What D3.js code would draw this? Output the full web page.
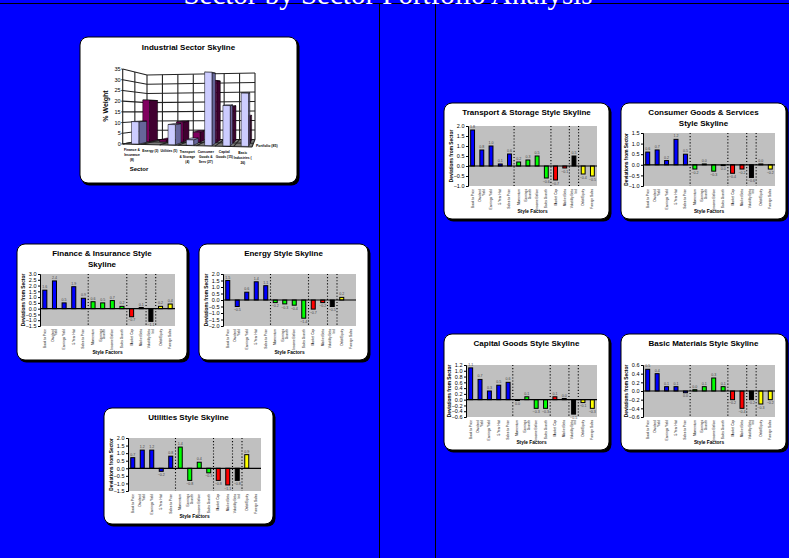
<!DOCTYPE html>
<html>
<head>
<meta charset="utf-8">
<title>Sector by Sector Portfolio Analysis</title>
<script src="https://cdn.jsdelivr.net/npm/d3@7"></script>
<style>
html,body{margin:0;padding:0;background:#0000ff;overflow:hidden}
svg{display:block;font-family:"Liberation Sans",Arial,sans-serif}
</style>
</head>
<body>
<svg id="page" width="789" height="558"></svg>
<script>
// Style factors shared by the seven skyline panels
const styleFactors = ["Book to Price","Dividend\nYield","Earnings Yield","5 Year Hist","Sales to Price",
  "Momentum","Earnings\nGrowth","Income Before","Sales Growth","Market Cap","Market Beta",
  "Volatility Beta\nInd","Debt/Equity","Foreign Sales"];
const factorColors = ["#0000ff","#0000ff","#0000ff","#0000ff","#0000ff",
  "#00ff00","#00ff00","#00ff00","#00ff00","#ff0000","#ff0000","#000000","#ffff00","#ffff00"];
const groupBreaks = [5, 9, 11, 12];

// Deviations from sector, one list per panel
const financeValues   = [1.6, 2.4, 0.5, 1.9, 0.9, 0.6, 0.5, 0.7, 0.2, -0.7, 0.1, -1.1, 0.2, 0.4];
const energyValues    = [1.5, -0.5, 0.6, 1.4, 1.1, -0.2, -0.3, -0.4, -1.4, -0.7, -0.2, -0.5, 0.2, null];
const utilitiesValues = [0.7, 1.2, 1.2, -0.2, 0.8, 1.4, -0.8, 0.4, -0.3, -0.8, -1.1, -0.8, 0.9, null];
const transportValues = [1.8, 0.8, 1.0, 0.1, 0.6, 0.2, 0.3, 0.5, -0.6, -0.7, -0.1, 0.5, -0.4, -0.5];
const consumerValues  = [0.6, 0.7, 0.2, 1.2, 0.5, -0.2, 0.04, -0.3, -0.04, -0.4, -0.2, -0.6, 0.04, -0.2];
const capitalValues   = [1.1, 0.7, 0.3, 0.5, 0.6, -0.03, 0.1, -0.3, -0.3, 0.1, 0.04, -0.5, -0.1, -0.3];
const basicValues     = [0.5, 0.4, 0.1, 0.1, -0.04, 0.03, 0.1, 0.3, 0.1, -0.2, -0.4, -0.2, -0.3, -0.2];

// Panel placement: card box, plot box, value range and tick step
const skylinePanels = [
  {title:["Finance & Insurance Style","Skyline"], values:financeValues, card:[17,244,187,360], plot:[40,274,175,326], range:[-1.5,3], step:0.5},
  {title:["Energy Style Skyline"], values:energyValues, card:[199,244,368,360], plot:[223,274,356,326], range:[-2,2], step:0.5},
  {title:["Utilities Style Skyline"], values:utilitiesValues, card:[104,408,273,524], plot:[128,438,261,491], range:[-1.5,2], step:0.5},
  {title:["Transport & Storage Style Skyline"], values:transportValues, card:[444,103,609,219], plot:[468,126,597,186], range:[-1,2], step:0.5},
  {title:["Consumer Goods & Services","Style Skyline"], values:consumerValues, card:[621,103,786,219], plot:[643,133,775,186], range:[-1,1.5], step:0.5},
  {title:["Capital Goods Style Skyline"], values:capitalValues, card:[444,334,609,450], plot:[466,365,597,417], range:[-0.6,1.2], step:0.2},
  {title:["Basic Materials Style Skyline"], values:basicValues, card:[621,334,786,450], plot:[643,365,775,417], range:[-0.6,0.6], step:0.2}
];

// Sector weights for the 3D overview
const sectorNames = ["Finance &\nInsurance\n(8)","Energy (3)","Utilities (5)","Transport\n& Storage\n(4)",
  "Consumer\nGoods &\nServ (27)","Capital\nGoods (15)","Basic\nIndustries (\n26)"];
const sectorWeights = [10.5, 0, 9.5, 2.5, 34.5, 19, 25];
const portfolioWeights = [21, 1, 10, 5, 31, 18, 13];
const weightTicks = [0,5,10,15,20,25,30,35];

const svg = d3.select("#page");

// Frame rules and page heading
svg.append("line").attr("x1",0).attr("x2",789).attr("y1",3.5).attr("y2",3.5).attr("stroke","#000");
[379.5,435.5].forEach(x => svg.append("line").attr("x1",x).attr("x2",x).attr("y1",3.5).attr("y2",558).attr("stroke","#000"));
svg.append("text").attr("x",388).attr("y",3.5).attr("text-anchor","middle")
  .attr("font-family","'Liberation Serif','Times New Roman',serif").attr("font-size",29).attr("fill","#fff")
  .text("Sector by Sector Portfolio Analysis");

// Rounded white card with a hard black drop shadow
function drawCard(box){
  const [x0,y0,x1,y1] = box;
  svg.append("rect").attr("x",x0+1.5).attr("y",y0+1.5).attr("width",x1-x0+1).attr("height",y1-y0+1).attr("rx",8).attr("fill","#000");
  svg.append("rect").attr("x",x0).attr("y",y0).attr("width",x1-x0).attr("height",y1-y0).attr("rx",8)
    .attr("fill","#fff").attr("stroke","#000").attr("stroke-width",1);
}

function drawSkyline(p){
  drawCard(p.card);
  const [x0,y0,x1,y1] = p.plot;
  const cx = (p.card[0]+p.card[2])/2;
  const g = svg.append("g");

  p.title.forEach((t,i) => g.append("text").attr("x",cx).attr("y",p.card[1]+11.5+i*11.6)
    .attr("text-anchor","middle").attr("font-size",8).attr("font-weight","bold").attr("fill","#000").text(t));

  const x = d3.scaleBand().domain(d3.range(styleFactors.length)).range([x0,x1]).paddingInner(0.58).paddingOuter(0.29);
  const y = d3.scaleLinear().domain(p.range).range([y1,y0]);

  g.append("rect").attr("x",x0).attr("y",y0).attr("width",x1-x0).attr("height",y1-y0).attr("fill","#c0c0c0");

  // Dotted rules between factor groups
  g.selectAll("line.sep").data(groupBreaks).join("line").attr("class","sep")
    .attr("x1",d => x0+d*(x1-x0)/styleFactors.length).attr("x2",d => x0+d*(x1-x0)/styleFactors.length)
    .attr("y1",y0).attr("y2",y1).attr("stroke","#000").attr("stroke-width",1.1).attr("stroke-dasharray","1.1 2");

  const rows = p.values.map((v,i) => ({v,i})).filter(d => d.v !== null);
  g.selectAll("rect.bar").data(rows).join("rect").attr("class","bar")
    .attr("x",d => x(d.i)).attr("width",x.bandwidth())
    .attr("y",d => Math.min(y(d.v),y(0))).attr("height",d => Math.abs(y(d.v)-y(0)))
    .attr("fill",d => factorColors[d.i]).attr("stroke","#000").attr("stroke-width",1);

  g.selectAll("text.val").data(rows).join("text").attr("class","val")
    .attr("x",d => x(d.i)+x.bandwidth()/2)
    .attr("y",d => d.v >= 0 ? y(d.v)-2 : y(d.v)+4.6)
    .attr("text-anchor","middle").attr("font-size",3.6).attr("fill","#444")
    .text(d => d3.format(".1f")(d.v));

  // Zero line
  g.append("line").attr("x1",x0).attr("x2",x1).attr("y1",y(0)).attr("y2",y(0)).attr("stroke","#000").attr("stroke-width",1.2);

  // Value axis
  const n = Math.round((p.range[1]-p.range[0])/p.step);
  const ticks = d3.range(n+1).map(i => p.range[0]+i*p.step);
  const axis = g.append("g").attr("transform",`translate(${x0},0)`)
    .call(d3.axisLeft(y).tickValues(ticks).tickSize(2).tickPadding(1.5).tickFormat(d3.format(".1f")));
  axis.selectAll("path,line").attr("stroke","#000");
  axis.selectAll("text").attr("font-size",5.5).attr("font-family","'Liberation Sans',Arial,sans-serif").attr("fill","#000");

  g.append("text").attr("transform",`translate(${x0-15.5},${(y0+y1)/2}) rotate(-90)`).attr("text-anchor","middle")
    .attr("font-size",4.8).attr("font-weight","bold").attr("fill","#000").text("Deviations from Sector");

  // Rotated factor names under the plot
  styleFactors.forEach((name,i) => {
    const lines = name.split("\n");
    lines.forEach((ln,j) => {
      const lx = x(i)+x.bandwidth()/2+1+(j-(lines.length-1)/2)*3.6;
      g.append("text").attr("transform",`translate(${lx},${y1+3}) rotate(-90)`).attr("text-anchor","end")
        .attr("font-size",3.2).attr("fill","#000").text(ln);
    });
  });

  g.append("text").attr("x",(x0+x1)/2).attr("y",p.card[3]-6.5).attr("text-anchor","middle")
    .attr("font-size",4.8).attr("font-weight","bold").attr("fill","#000").text("Style Factors");
}

// 3D column overview: two rows of columns projected between a front and a back plane
function drawOverview(){
  drawCard([80,37,297,183]);
  const g = svg.append("g");
  g.append("text").attr("x",188.5).attr("y",50).attr("text-anchor","middle").attr("font-size",8).attr("font-weight","bold").attr("fill","#000")
    .text("Industrial Sector Skyline");

  const n = sectorNames.length;
  const col = d3.scaleLinear().domain([0,n]).range([0,1]);
  const lerp = d3.interpolateNumber;
  const front = {xl:122.7, xr:252, y0l:144, y0r:147, hl:75, hr:75};
  const back  = {xl:147,  xr:255, y0l:139.5, y0r:139.5, hl:64.5, hr:66.5};
  const weight = d3.scaleLinear().domain([0,35]).range([0,1]);

  // Map (category position, depth 0-1, weight) to page coordinates
  function project(c,d,v){
    const u = col(c);
    const xl = lerp(front.xl,back.xl)(d), xr = lerp(front.xr,back.xr)(d);
    const b = lerp(lerp(front.y0l,back.y0l)(d), lerp(front.y0r,back.y0r)(d))(u);
    const h = lerp(lerp(front.hl,back.hl)(d), lerp(front.hr,back.hr)(d))(u);
    return [lerp(xl,xr)(u), b-weight(v)*h];
  }
  const poly = pts => "M"+pts.map(p => p.join(",")).join("L")+"Z";
  const line = d3.line();

  // Walls and floor
  g.append("path").attr("d",poly([project(0,0,0),project(0,1,0),project(0,1,35),project(0,0,35)])).attr("fill","#fff");
  g.append("path").attr("d",poly([project(0,1,0),project(n,1,0),project(n,1,35),project(0,1,35)])).attr("fill","#fff");
  g.append("path").attr("d",poly([project(0,0,0),project(n,0,0),project(n,1,0),project(0,1,0)])).attr("fill","#7a7a7a");

  const gridAttrs = s => s.attr("fill","none").attr("stroke","#222").attr("stroke-width",1.1);
  weightTicks.forEach(v => {
    gridAttrs(g.append("path").attr("d",line([project(0,0,v),project(0,1,v),project(n,1,v)])));
  });
  d3.range(n+1).forEach(c => {
    gridAttrs(g.append("path").attr("d",line([project(c,0,0),project(c,1,0),project(c,1,35)])));
  });
  gridAttrs(g.append("path").attr("d",line([project(0,0.5,0),project(0,0.5,35)])));
  gridAttrs(g.append("path").attr("d",line([project(0,0.5,0),project(n,0.5,0)])));
  gridAttrs(g.append("path").attr("d",line([project(0,0,0),project(0,0,35)])));
  gridAttrs(g.append("path").attr("d",line([project(0,0,0),project(n,0,0)])));

  // One column: side, top, then front face
  function column(c,d0,d1,v,face,side,top){
    const w = 0.4, c0 = c+0.4, c1 = c0+w;
    g.append("path").attr("d",poly([project(c1,d0,0),project(c1,d1,0),project(c1,d1,v),project(c1,d0,v)]))
      .attr("fill",side).attr("stroke","#000").attr("stroke-width",0.5);
    g.append("path").attr("d",poly([project(c0,d0,v),project(c1,d0,v),project(c1,d1,v),project(c0,d1,v)]))
      .attr("fill",top).attr("stroke","#000").attr("stroke-width",0.5);
    g.append("path").attr("d",poly([project(c0,d0,0),project(c1,d0,0),project(c1,d0,v),project(c0,d0,v)]))
      .attr("fill",face).attr("stroke","#000").attr("stroke-width",0.5);
  }
  d3.range(n-1,-1,-1).forEach(i => column(i,0.55,0.92,portfolioWeights[i],"#800060","#400030","#660050"));
  d3.range(n-1,-1,-1).forEach(i => { if (sectorWeights[i] > 0) column(i,0.06,0.42,sectorWeights[i],"#ccccff","#666699","#a3a3cc"); });

  // Weight axis labels and ticks
  const tickY = d3.scaleLinear().domain([0,35]).range([project(0,0,0)[1],project(0,0,35)[1]]);
  g.selectAll("text.wt").data(weightTicks).join("text").attr("class","wt")
    .attr("x",120.7).attr("y",d => tickY(d)+2).attr("text-anchor","end").attr("font-size",5.5).attr("fill","#000").text(d => d);
  g.selectAll("line.wt").data(weightTicks).join("line").attr("class","wt")
    .attr("x1",121).attr("x2",122.7).attr("y1",d => tickY(d)).attr("y2",d => tickY(d)).attr("stroke","#000").attr("stroke-width",0.6);

  g.append("text").attr("transform","translate(108,106) rotate(-90)").attr("text-anchor","middle")
    .attr("font-size",7).attr("font-weight","bold").attr("fill","#000").text("% Weight");
  g.append("text").attr("x",139).attr("y",170.5).attr("text-anchor","middle")
    .attr("font-size",6).attr("font-weight","bold").attr("fill","#000").text("Sector");

  // Category names below the floor
  sectorNames.forEach((name,i) => {
    const base = project(i+0.5,0,0);
    name.split("\n").forEach((ln,j) => {
      g.append("text").attr("x",base[0]).attr("y",base[1]+7+j*5).attr("text-anchor","middle")
        .attr("font-size",3.3).attr("font-weight","bold").attr("fill","#000").text(ln);
    });
  });
  g.append("text").attr("x",256).attr("y",146.5).attr("font-size",3.5).attr("font-weight","bold").attr("fill","#000").text("Portfolio (85)");
}

drawOverview();
skylinePanels.forEach(drawSkyline);
</script>
</body>
</html>
